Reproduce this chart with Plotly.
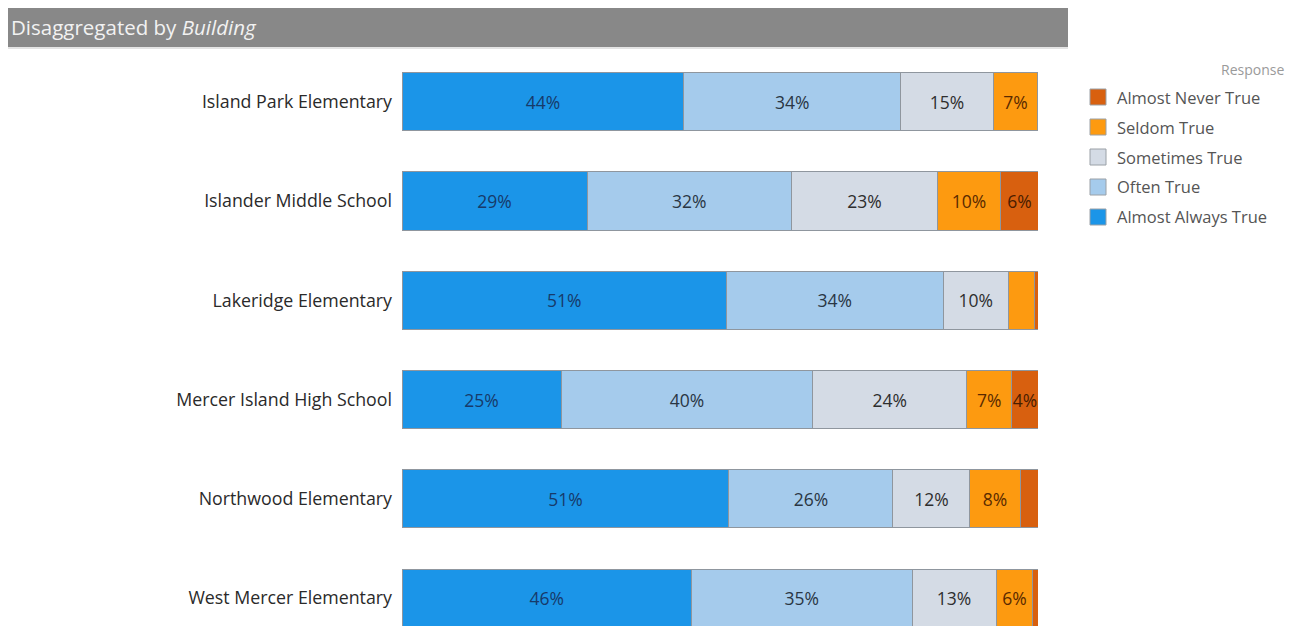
import plotly.graph_objects as go

buildings = ["Island Park Elementary", "Islander Middle School", "Lakeridge Elementary",
             "Mercer Island High School", "Northwood Elementary", "West Mercer Elementary"]
responses = ["Almost Always True", "Often True", "Sometimes True", "Seldom True", "Almost Never True"]
almost_always = [44.3, 29.1, 51.0, 25.0, 51.4, 45.5]
often = [34.1, 32.1, 34.1, 39.6, 25.8, 34.7]
sometimes = [14.6, 23.0, 10.2, 24.2, 12.1, 13.2]
seldom = [6.9, 9.9, 4.1, 7.1, 7.9, 5.8]
almost_never = [0.0, 6.0, 0.6, 4.1, 2.8, 0.8]
series = [almost_always, often, sometimes, seldom, almost_never]
colors = ["#1b95e8", "#a5cbec", "#d4dbe5", "#fd9a10", "#d8600f"]
text_colors = ["#173a6a", "#2a3644", "#2e2e2e", "#5a2a00", "#4a1d00"]
hidden_labels = [("Lakeridge Elementary", "Seldom True")]

FONT = "Open Sans, Noto Sans, sans-serif"
OFF = 8  # page body margin
W, H = 1295 - OFF, 626 - OFF
L, R, T, B = 402 - OFF, 1038 - OFF, 52 - OFF, 626 - OFF

fig = go.Figure()
for name, vals, col, tcol in zip(responses, series, colors, text_colors):
    texts = []
    for b, v in zip(buildings, vals):
        if v < 3.5 or (b, name) in hidden_labels:
            texts.append("")
        else:
            texts.append(f"{v:.0f}%")
    fig.add_trace(go.Bar(
        y=buildings, x=vals, name=name, orientation="h",
        marker=dict(color=col, line=dict(color="#8f969e", width=1)),
        text=texts, textposition="inside", insidetextanchor="middle",
        textangle=0, constraintext="none",
        textfont=dict(family=FONT, size=17.5, color=tcol),
        showlegend=False, width=0.585,
    ))

def px_x(px):
    return (px - OFF - L) / (R - L)

def px_y(py):
    return (B - (py - OFF)) / (B - T)

shapes = []
annotations = []
# header band
shapes.append(dict(type="rect", xref="paper", yref="paper",
                   x0=px_x(3), x1=px_x(1068), y0=px_y(47), y1=px_y(3),
                   fillcolor="#888888", line=dict(width=0), layer="below"))
shapes.append(dict(type="line", xref="paper", yref="paper",
                   x0=px_x(3), x1=px_x(1068), y0=px_y(48), y1=px_y(48),
                   line=dict(color="#c8c8c8", width=1)))
annotations.append(dict(xref="paper", yref="paper", x=px_x(9), y=px_y(27),
                        xanchor="left", yanchor="middle", showarrow=False,
                        text="Disaggregated by <i>Building</i>",
                        font=dict(family=FONT, size=20.5, color="#f2f2f2")))
# legend
annotations.append(dict(xref="paper", yref="paper", x=px_x(1286), y=px_y(70),
                        xanchor="right", yanchor="middle", showarrow=False, text="Response",
                        font=dict(family=FONT, size=14, color="#9a9a9a")))
legend_order = list(reversed(list(zip(responses, colors))))
for i, (name, col) in enumerate(legend_order):
    cy = 97 + 30 * i
    shapes.append(dict(type="rect", xref="paper", yref="paper",
                       x0=px_x(1090), x1=px_x(1106), y0=px_y(cy + 8), y1=px_y(cy - 8),
                       fillcolor=col, line=dict(color="#9aa0a6", width=1)))
    annotations.append(dict(xref="paper", yref="paper", x=px_x(1115), y=px_y(cy),
                            xanchor="left", yanchor="middle", showarrow=False, text=name,
                            font=dict(family=FONT, size=16.5, color="#555555")))

fig.update_layout(
    barmode="stack", width=W, height=H,
    margin=dict(l=L, r=W - R, t=T, b=H - B, pad=0),
    plot_bgcolor="white", paper_bgcolor="white",
    xaxis=dict(range=[0, 100], showgrid=False, zeroline=False, showticklabels=False,
               showline=False, fixedrange=True),
    yaxis=dict(type="category", categoryorder="array", categoryarray=buildings,
               range=[5.28, -0.5], showgrid=False, zeroline=False, showline=False,
               ticks="", ticklabelstandoff=9,
               tickfont=dict(family=FONT, size=17.8, color="#2a2a2a")),
    shapes=shapes, annotations=annotations,
    font=dict(family=FONT),
)

fig.write_html("out.html")
